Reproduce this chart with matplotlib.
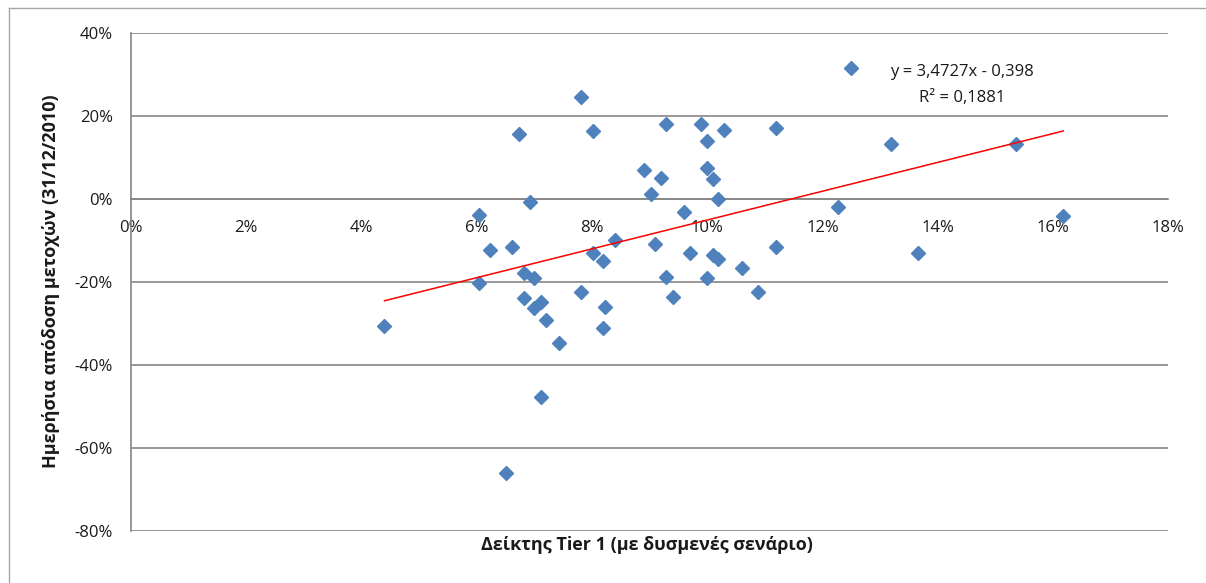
import matplotlib
matplotlib.use("Agg")
import numpy as np
import matplotlib.pyplot as plt
from matplotlib.lines import Line2D
from matplotlib.ticker import FuncFormatter

plt.rcParams['font.family'] = ['Open Sans', 'DejaVu Sans']

# Tier 1 ratio (adverse scenario) vs. share return
tier1 = [0.0440, 0.0604, 0.0604, 0.0623, 0.0661, 0.0674, 0.0693, 0.0682, 0.0700,
         0.0682, 0.0700, 0.0712, 0.0721, 0.0742, 0.0712, 0.0651, 0.0781, 0.0801,
         0.0781, 0.0801, 0.0820, 0.0840, 0.0823, 0.0819, 0.0890, 0.0902, 0.0920,
         0.0929, 0.0910, 0.0929, 0.0940, 0.0959, 0.0971, 0.0990, 0.0999, 0.0999,
         0.1010, 0.1018, 0.1030, 0.1010, 0.1018, 0.0999, 0.1060, 0.1088, 0.1119,
         0.1119, 0.1227, 0.1250, 0.1319, 0.1366, 0.1536, 0.1618]
returns = [-0.306, -0.039, -0.202, -0.124, -0.116, 0.157, -0.008, -0.179, -0.190,
           -0.238, -0.262, -0.247, -0.292, -0.346, -0.478, -0.661, 0.245, 0.164,
           -0.225, -0.129, -0.149, -0.100, -0.261, -0.311, 0.070, 0.012, 0.050,
           0.180, -0.109, -0.187, -0.237, -0.031, -0.131, 0.180, 0.139, 0.075,
           0.048, 0.001, 0.167, -0.134, -0.144, -0.190, -0.167, -0.225, 0.170,
           -0.116, -0.019, 0.315, 0.132, -0.131, 0.132, -0.041]

slope = 3.4727
intercept = -0.398
r2 = 0.1881

grid_col = '#868686'
text_col = '#1a1a1a'

fig = plt.figure(figsize=(12.06, 5.83), dpi=100)
ax = fig.add_axes([0.1086, 0.0892, 0.86, 0.8542])

ax.plot(tier1, returns, linestyle='none', marker='D', markersize=7.2,
        color='#4F81BD', markeredgecolor='#4F81BD', zorder=3)

xs = np.array([min(tier1), max(tier1)])
ax.plot(xs, slope * xs + intercept, color='#FF0000', linewidth=1.1, zorder=4)

ax.set_xlim(0, 0.18)
ax.set_ylim(-0.8, 0.4)
ax.set_xticks(np.arange(0, 0.181, 0.02))
ax.set_yticks(np.arange(-0.8, 0.41, 0.2))
pct = FuncFormatter(lambda v, p: f"{round(v * 100) + 0:.0f}%")
ax.xaxis.set_major_formatter(pct)
ax.yaxis.set_major_formatter(pct)

ax.grid(axis='y', color=grid_col, linewidth=1.2)
ax.set_axisbelow(True)
for s in ('top', 'right'):
    ax.spines[s].set_visible(False)
ax.spines['left'].set_color(grid_col)
ax.spines['left'].set_linewidth(1.2)
ax.spines['bottom'].set_position(('data', 0))
ax.spines['bottom'].set_color(grid_col)
ax.spines['bottom'].set_linewidth(1.2)
ax.tick_params(axis='both', length=0, labelsize=12, colors=text_col)
ax.tick_params(axis='x', pad=15)
ax.tick_params(axis='y', pad=13)

ax.set_xlabel('Δείκτης Tier 1 (με δυσμενές σενάριο)', fontsize=13,
              fontweight='bold', color=text_col)
ax.xaxis.set_label_coords(0.497, -0.028)
ax.xaxis.label.set_va('center')
ax.set_ylabel('Ημερήσια απόδοση μετοχών (31/12/2010)', fontsize=13,
              fontweight='bold', color=text_col)
ax.yaxis.set_label_coords(-0.077, 0.502)
ax.yaxis.label.set_va('center')

ax.text(0.1442, 0.306, f"y = {slope:.4f}x - {abs(intercept):.3f}".replace('.', ','),
        ha='center', va='center', fontsize=12, color=text_col)
ax.text(0.1442, 0.243, f"R² = {r2:.4f}".replace('.', ','),
        ha='center', va='center', fontsize=12, color=text_col)

# outer chart frame
fig.add_artist(Line2D([9 / 1206, 9 / 1206], [0, 1 - 8 / 583],
                      transform=fig.transFigure, color='#a6a6a6', linewidth=1))
fig.add_artist(Line2D([9 / 1206, 1], [1 - 8 / 583, 1 - 8 / 583],
                      transform=fig.transFigure, color='#a6a6a6', linewidth=1))

fig.savefig('out.png', dpi=100, facecolor='white')
